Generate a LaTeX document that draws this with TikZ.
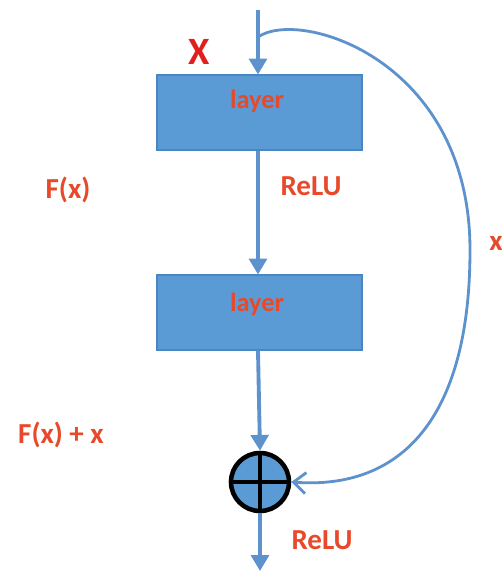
\documentclass[tikz,border=0pt]{standalone}
\usepackage{fontspec}
\setmainfont{Carlito}
\usetikzlibrary{arrows.meta}
\definecolor{boxblue}{HTML}{5B9BD5}
\definecolor{boxedge}{HTML}{4A86C0}
\definecolor{arrowblue}{HTML}{5E92CC}
\definecolor{lbl}{HTML}{E8492A}
\definecolor{xred}{HTML}{E0201C}
\tikzset{
  layerbox/.style={rectangle, fill=boxblue, draw=boxedge, line width=0.6pt,
    minimum width=4.1cm, minimum height=1.5cm, inner sep=0pt},
  flow/.style={draw=arrowblue, line width=2.2pt, -{Triangle[length=9pt,width=10pt]}},
  skip/.style={draw=arrowblue, line width=1.6pt, -{Straight Barb[length=7pt,width=12pt]}},
  lbltext/.style={text=lbl, font=\bfseries\fontsize{16.5}{19}\selectfont},
  laytext/.style={text=lbl, font=\bfseries\fontsize{15}{18}\selectfont},
}
\begin{document}
\begin{tikzpicture}[x=0.02cm,y=-0.02cm]
\useasboundingbox (0,0) rectangle (501,572);
\coordinate (in) at (258,10);
\coordinate (split) at (258,37);
\node[layerbox] (l1) at (259.5,112.5) {};
\node[laytext] (t1) at (257,101) {layer};
\node[layerbox] (l2) at (259.5,312.5) {};
\node[laytext] (t2) at (257,304) {layer};
\node[circle, fill=boxblue, draw=black, line width=2.6pt, minimum size=1.16cm, inner sep=0pt] (sum) at (260,482) {};
\draw[black, line width=2.6pt] (sum.north) -- (sum.south) (sum.west) -- (sum.east);
\coordinate (out) at (260,571);
\draw[flow] (in) -- (l1.north -| in);
\draw[flow] (l1.south -| in) -- (l2.north -| in);
\draw[flow] (l2.south -| in) -- (sum.north);
\draw[flow] (sum.south) -- (out);
\draw[skip] (split) .. controls (300,8) and (470,60) .. (470,250)
  .. controls (470,420) and (400,490) .. (sum.east);
\node[text=xred, font=\bfseries\fontsize{22}{26}\selectfont] (xl) at (199,52) {X};
\node[lbltext] (relu1) at (311,186) {ReLU};
\node[lbltext] (fx) at (68,190) {F(x)};
\node[lbltext] (fxx) at (61,435) {F(x) + x};
\node[lbltext] (relu2) at (322,540) {ReLU};
\node[lbltext, anchor=west, inner sep=0pt] (xr) at (489,243) {x};
\end{tikzpicture}
\end{document}
